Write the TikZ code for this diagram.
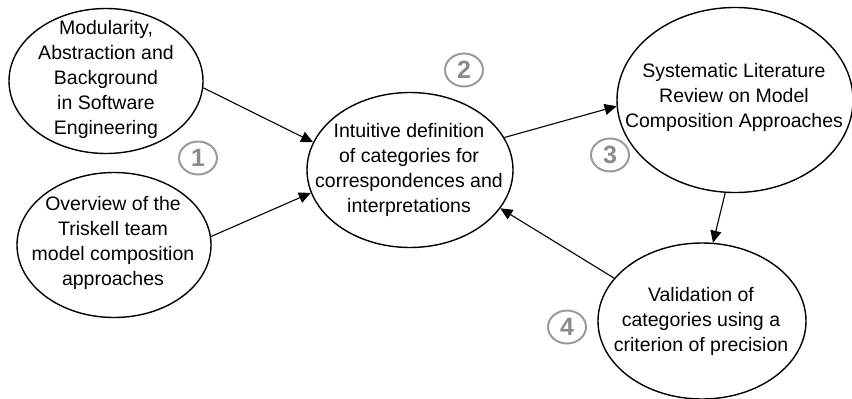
\documentclass[tikz,border=0pt]{standalone}
\usepackage{fontspec}
\setmainfont{Liberation Sans}
\usetikzlibrary{arrows.meta, shapes.geometric, positioning}

\definecolor{stepgray}{HTML}{8A8A8A}
\definecolor{ringgray}{HTML}{9A9A9A}

\begin{document}
\begin{tikzpicture}[x=1pt, y=-1pt,
	bubble/.style={draw, shape=ellipse, line width=1.4pt, inner sep=0pt},
	btext/.style={align=center, font=\fontsize{19.5}{25}\selectfont, inner sep=0pt},
	stepnum/.style={draw=ringgray, shape=ellipse, line width=2pt, minimum width=38pt, minimum height=33pt, inner sep=0pt, text=stepgray, font=\fontsize{25}{25}\selectfont\bfseries},
	flow/.style={line width=1.1pt, -{Triangle[length=12pt, width=11pt]}}]
	\useasboundingbox (0,0) rectangle (852,399);

	% the five activities
	\node[bubble, minimum width=194pt, minimum height=145pt] (modul) at (106,81) {};
	\node[btext] (modultxt) at (106,79) {Modularity,\\Abstraction and\\Background\\in Software\\Engineering};

	\node[bubble, minimum width=194pt, minimum height=145pt] (triskell) at (114,245) {};
	\node[btext] (triskelltxt) at (113,243) {Overview of the\\Triskell team\\model composition\\approaches};

	\node[bubble, minimum width=206pt, minimum height=155pt] (intuit) at (410,170) {};
	\node[btext] (intuittxt) at (409,170) {Intuitive definition\\of categories for\\correspondences and\\interpretations};

	\node[bubble, minimum width=236pt, minimum height=185pt] (slr) at (735,100) {};
	\node[btext] (slrtxt) at (734,97) {Systematic Literature\\Review on Model\\Composition Approaches};

	\node[bubble, minimum width=208pt, minimum height=156pt] (valid) at (702,321) {};
	\node[btext] (validtxt) at (701,321) {Validation of\\categories using a\\criterion of precision};

	% step numbers
	\node[stepnum] (one) at (198,158) {1};
	\node[stepnum] (two) at (464,70) {2};
	\node[stepnum] (three) at (610,155) {3};
	\node[stepnum] (four) at (567,327) {4};

	% flow between activities
	\draw[flow] (modul.-4) -- (intuit.164);
	\draw[flow] (triskell.5) -- (intuit.193);
	\draw[flow] (intuit.19) -- (slr.183);
	\draw[flow] (slr.264) -- (valid.82);
	\draw[flow] (valid.154) -- (intuit.-23);
\end{tikzpicture}
\end{document}
